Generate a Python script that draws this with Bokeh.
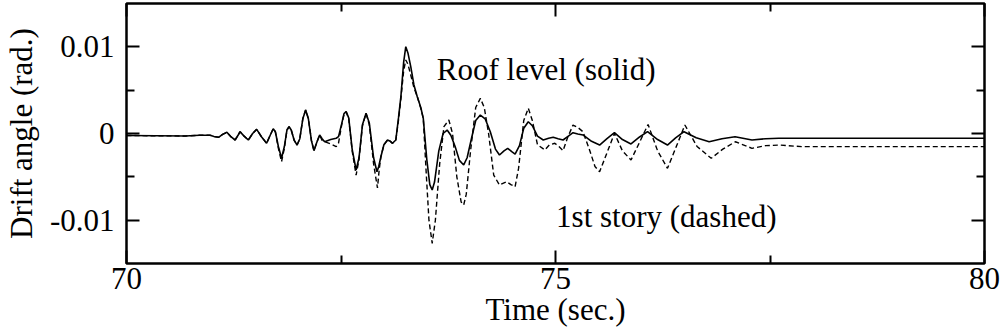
from bokeh.plotting import figure
from bokeh.models import FixedTicker, LinearAxis, Range1d, Label, CustomJSTickFormatter
from bokeh.embed import file_html
from bokeh.resources import INLINE

# ---- data (time in sec., drift angle in rad.) ----
roof_t = [70.0, 70.687, 70.85, 70.976, 71.02, 71.073, 71.12, 71.170, 71.22, 71.266,
          71.30, 71.324, 71.37, 71.420, 71.47, 71.517, 71.575, 71.633, 71.675, 71.710,
          71.735, 71.77, 71.807, 71.84, 71.870, 71.895, 71.92, 71.955, 71.988, 72.02,
          72.055, 72.088, 72.12, 72.155, 72.185, 72.215, 72.251, 72.28, 72.309, 72.38,
          72.444, 72.471, 72.51, 72.535, 72.560, 72.59, 72.63, 72.676, 72.71, 72.75,
          72.792, 72.83, 72.88, 72.919, 72.94, 72.965, 73.0, 73.042, 73.075, 73.100,
          73.139, 73.17, 73.198, 73.23, 73.255, 73.28, 73.313, 73.35, 73.389, 73.43,
          73.459, 73.50, 73.535, 73.563, 73.59, 73.64, 73.69, 73.737, 73.78, 73.83,
          73.88, 73.930, 73.97, 74.02, 74.07, 74.124, 74.18, 74.24, 74.30, 74.347,
          74.40, 74.443, 74.49, 74.529, 74.58, 74.63, 74.683, 74.73, 74.79, 74.857,
          74.92, 74.973, 75.03, 75.088, 75.15, 75.204, 75.26, 75.320, 75.42, 75.514,
          75.60, 75.687, 75.78, 75.880, 75.98, 76.073, 76.19, 76.305, 76.40, 76.498,
          76.64, 76.791, 76.94, 77.093, 77.290, 77.45, 77.602, 77.985, 80.0]
roof_v = [-0.00023, -0.00029, -0.00020, -0.00021, -0.00035, -0.00044, -0.00010, 0.00014, -0.00040, -0.00075,
          -0.00020, 0.00021, -0.00030, -0.00075, 0.00000, 0.00048, -0.00040, -0.00113, -0.00020, 0.00055,
          0.00020, -0.00150, -0.00286, -0.00150, 0.00040, 0.00078, 0.00040, -0.00080, -0.00133, -0.00060,
          0.00170, 0.00271, 0.00170, -0.00080, -0.00198, -0.00110, -0.00017, -0.00060, -0.00095, -0.00070,
          -0.00055, -0.00037, 0.00120, 0.00230, 0.00252, 0.00180, -0.00180, -0.00421, -0.00280, 0.00100,
          0.00233, 0.00120, -0.00280, -0.00441, -0.00380, -0.00268, -0.00130, -0.00075, -0.00090, -0.00113,
          -0.00075, 0.00180, 0.00425, 0.00820, 0.01002, 0.00930, 0.00771, 0.00560, 0.00425, 0.00300,
          0.00175, -0.00300, -0.00590, -0.00652, -0.00560, -0.00200, 0.00000, 0.00040, -0.00020, -0.00150,
          -0.00310, -0.00363, -0.00280, -0.00060, 0.00150, 0.00213, 0.00170, 0.00020, -0.00180, -0.00248,
          -0.00200, -0.00171, -0.00210, -0.00237, -0.00140, 0.00060, 0.00136, 0.00090, -0.00030, -0.00075,
          -0.00055, -0.00044, -0.00060, -0.00075, -0.00030, 0.00009, -0.00005, -0.00017, -0.00090, -0.00133,
          -0.00060, 0.00009, -0.00070, -0.00121, -0.00040, 0.00021, -0.00070, -0.00133, -0.00050, 0.00021,
          -0.00050, -0.00095, -0.00060, -0.00037, -0.00075, -0.00060, -0.00055, -0.00055, -0.00055]

story_t = [70.0, 70.687, 70.85, 70.976, 71.02, 71.073, 71.12, 71.170, 71.22, 71.266,
           71.30, 71.324, 71.37, 71.420, 71.47, 71.517, 71.575, 71.633, 71.675, 71.710,
           71.735, 71.77, 71.807, 71.84, 71.870, 71.895, 71.92, 71.955, 71.988, 72.02,
           72.055, 72.088, 72.12, 72.155, 72.185, 72.215, 72.251, 72.28, 72.309, 72.38,
           72.444, 72.471, 72.51, 72.535, 72.560, 72.59, 72.63, 72.676, 72.71, 72.75,
           72.792, 72.83, 72.88, 72.925, 72.945, 72.965, 73.0, 73.042, 73.075, 73.100,
           73.139, 73.17, 73.198, 73.23, 73.255, 73.28, 73.313, 73.35, 73.389, 73.43,
           73.459, 73.49, 73.525, 73.563, 73.60, 73.65, 73.70, 73.757, 73.80, 73.85,
           73.90, 73.930, 73.96, 74.01, 74.07, 74.124, 74.17, 74.22, 74.28, 74.347,
           74.40, 74.432, 74.48, 74.529, 74.57, 74.63, 74.683, 74.73, 74.79, 74.876,
           74.93, 74.992, 75.04, 75.088, 75.14, 75.204, 75.26, 75.320, 75.397, 75.46,
           75.514, 75.57, 75.687, 75.78, 75.880, 75.98, 76.079, 76.19, 76.305, 76.40,
           76.508, 76.65, 76.815, 76.95, 77.096, 77.290, 77.45, 77.614, 77.869, 80.0]
story_v = [-0.00023, -0.00029, -0.00020, -0.00021, -0.00035, -0.00044, -0.00010, 0.00014, -0.00040, -0.00075,
           -0.00020, 0.00021, -0.00030, -0.00075, 0.00000, 0.00048, -0.00040, -0.00113, -0.00020, 0.00055,
           0.00020, -0.00170, -0.00325, -0.00170, 0.00040, 0.00078, 0.00040, -0.00080, -0.00133, -0.00060,
           0.00170, 0.00271, 0.00170, -0.00080, -0.00198, -0.00110, -0.00017, -0.00080, -0.00095, -0.00120,
           -0.00152, -0.00110, 0.00110, 0.00220, 0.00252, 0.00170, -0.00200, -0.00479, -0.00300, 0.00090,
           0.00233, 0.00100, -0.00350, -0.00629, -0.00420, -0.00268, -0.00130, -0.00075, -0.00090, -0.00113,
           -0.00075, 0.00150, 0.00400, 0.00720, 0.00848, 0.00800, 0.00675, 0.00530, 0.00425, 0.00290,
           0.00175, -0.00400, -0.01000, -0.01267, -0.01000, -0.00350, 0.00080, 0.00156, 0.00000, -0.00500,
           -0.00790, -0.00825, -0.00700, -0.00200, 0.00300, 0.00406, 0.00300, 0.00000, -0.00480, -0.00594,
           -0.00570, -0.00556, -0.00590, -0.00614, -0.00400, 0.00150, 0.00291, 0.00150, -0.00130, -0.00190,
           -0.00130, -0.00113, -0.00150, -0.00198, -0.00050, 0.00098, 0.00070, 0.00021, -0.00190, -0.00380,
           -0.00441, -0.00300, 0.00002, -0.00200, -0.00306, -0.00100, 0.00104, -0.00200, -0.00402, -0.00170,
           0.00098, -0.00150, -0.00286, -0.00180, -0.00095, -0.00171, -0.00140, -0.00133, -0.00152, -0.00152]

x_ticks = [70, 75, 80]
x_minor = [72.5, 77.5]
y_ticks = [-0.01, 0, 0.01]
y_minor = [-0.005, 0.005]
y_labels = {-0.01: "-0.01", 0: "0", 0.01: "0.01"}
x_label = "Time (sec.)"
y_label = "Drift angle (rad.)"
roof_text = "Roof level (solid)"
story_text = "1st story (dashed)"

FONT = "Liberation Serif"
FS = "31px"

p = figure(width=1001, height=334, output_backend="svg", toolbar_location=None,
           x_range=Range1d(70, 80), y_range=Range1d(-0.015, 0.015),
           min_border_left=121, min_border_right=17, min_border_top=3, min_border_bottom=71,
           x_axis_label=x_label, y_axis_label=y_label)
p.grid.visible = False
p.outline_line_color = "black"
p.outline_line_width = 2.5
p.background_fill_color = "white"
p.border_fill_color = "white"

p.line(roof_t, roof_v, line_color="black", line_width=1.6)
p.line(story_t, story_v, line_color="black", line_width=1.4, line_dash="5 3")

def style(ax):
    ax.axis_line_color = None
    ax.major_tick_in = 13
    ax.major_tick_out = 0
    ax.minor_tick_in = 8
    ax.minor_tick_out = 0
    ax.major_tick_line_width = 2
    ax.minor_tick_line_width = 2
    ax.major_tick_line_color = "black"
    ax.minor_tick_line_color = "black"
    ax.major_label_text_font = FONT
    ax.major_label_text_font_size = FS
    ax.major_label_text_color = "black"
    ax.axis_label_text_font = FONT
    ax.axis_label_text_font_size = FS
    ax.axis_label_text_font_style = "normal"
    ax.axis_label_text_color = "black"

p.xaxis.ticker = FixedTicker(ticks=x_ticks, minor_ticks=x_minor)
p.yaxis.ticker = FixedTicker(ticks=y_ticks, minor_ticks=y_minor)
p.yaxis.major_label_overrides = y_labels
for ax in p.xaxis + p.yaxis:
    style(ax)
p.xaxis.major_label_standoff = 4
p.xaxis.axis_label_standoff = 0
p.yaxis.major_label_standoff = 12
p.yaxis.axis_label_standoff = 8

blank = CustomJSTickFormatter(code="return '';")
top = LinearAxis(ticker=FixedTicker(ticks=x_ticks, minor_ticks=x_minor), formatter=blank)
style(top)
top.major_label_standoff = 0
p.add_layout(top, "above")
right = LinearAxis(ticker=FixedTicker(ticks=y_ticks, minor_ticks=y_minor), formatter=blank)
style(right)
right.major_label_standoff = 0
p.add_layout(right, "right")

p.add_layout(Label(x=73.617, y=0.00733, text=roof_text, text_font=FONT, text_font_size=FS,
                   text_color="black", text_baseline="alphabetic"))
p.add_layout(Label(x=75.007, y=-0.00963, text=story_text, text_font=FONT, text_font_size=FS,
                   text_color="black", text_baseline="alphabetic"))

open("out.html", "w").write(file_html(p, INLINE))
